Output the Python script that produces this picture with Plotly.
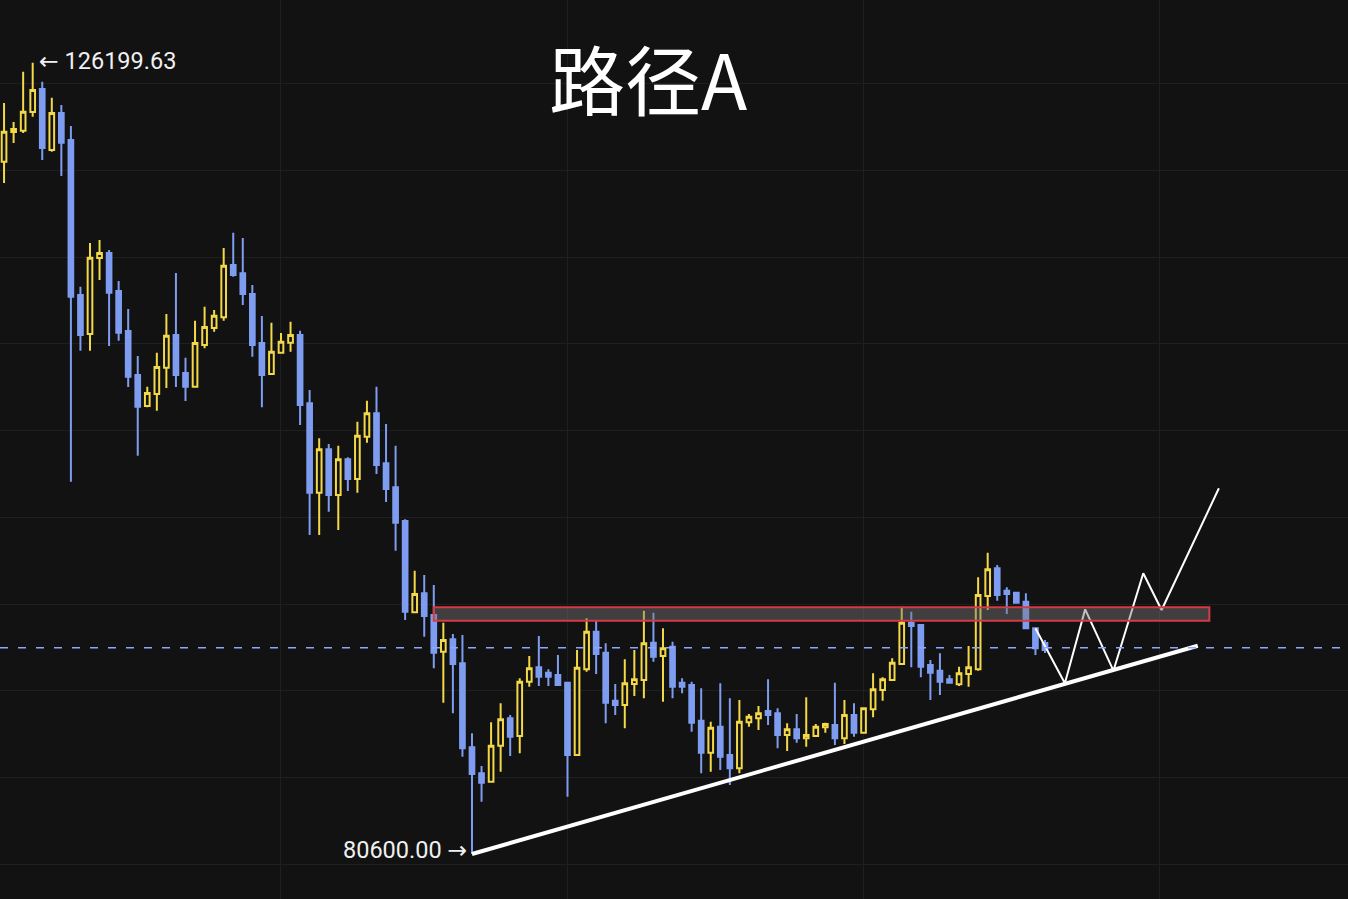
import pandas as pd
import plotly.graph_objects as go

# BTC daily candles, 2025-10-03 .. 2026-01-20
start_date = "2025-10-03"
opens = [
    120495, 122206, 122281, 123359, 124684, 121169, 123301, 121745, 112814, 110566,
    114946, 115234, 113044, 110739, 108204, 106417, 107109, 108624, 110509, 108319,
    107529, 109932, 110912, 111529, 114542, 114064, 112871, 110048, 108261, 109489,
    110065, 110509, 106573, 101421, 103922, 101289, 103346, 102211, 104648, 105997,
    103115, 101732, 99790, 94529, 95624, 94374, 92259, 92973, 91590, 86750,
    85252, 84768, 86842, 88421, 87401, 90530, 91360, 91049, 90916, 90473,
    86306, 91245, 93411, 92201, 89435, 89187, 90397, 90628, 92777, 92011,
    92547, 90473, 90340, 88283, 86439, 87937, 86306, 85540, 88190, 88421,
    88842, 88709, 87459, 87787, 87268, 87401, 87902, 88035, 87268, 88611,
    87591, 88940, 90052, 90628, 91550, 93930, 93797, 91492, 91164, 90669,
    90380, 90974, 91245, 95468, 97065, 95774, 95659, 95140, 93607, 92760,
]
highs = [
    123878, 122783, 125681, 126199.63, 125105, 124183, 123762, 122552, 113292, 115810,
    115983, 115407, 113620, 112007, 109298, 107529, 109489, 111719, 114081, 109201,
    111333, 112140, 111949, 115522, 116404, 116098, 113390, 111603, 111217, 110624,
    111275, 110756, 107339, 104556, 104227, 104130, 103461, 105513, 106723, 107529,
    105380, 104130, 99888, 96926, 96679, 96102, 93930, 93279, 93221, 87556,
    85672, 88190, 89285, 88611, 90726, 92011, 93163, 91245, 92069, 90473,
    92357, 94183, 94045, 92743, 90397, 91821, 92357, 94622, 94506, 93607,
    92835, 90726, 90530, 90150, 88225, 90438, 89573, 89475, 88669, 89130,
    90669, 88997, 88133, 88669, 89631, 88092, 88167, 90473, 89475, 89285,
    89050, 91014, 90784, 91878, 94852, 94564, 93797, 91780, 92167, 90916,
    91395, 92587, 96546, 97964, 97255, 95970, 95720, 95624, 93650, 92933,
]
lows = [
    119268, 121573, 122149, 123088, 120593, 121071, 119671, 102055, 109604, 109604,
    113678, 109875, 110180, 107512, 103553, 106350, 106147, 107454, 107512, 106705,
    107500, 109742, 110699, 111333, 113868, 112237, 109258, 106342, 108200, 109454,
    109546, 105322, 98984, 98984, 100327, 99272, 101519, 101421, 104303, 102499,
    100885, 98079, 94085, 94500, 93123, 91302, 89320, 88709, 86208, 80600,
    83615, 84700, 85344, 86248, 86404, 90242, 90282, 90282, 90300, 83904,
    86250, 91106, 90974, 88133, 88611, 87845, 89706, 89573, 91683, 89378,
    89573, 89862, 87649, 85252, 85344, 85442, 84577, 85252, 87937, 87747,
    88035, 86692, 86537, 87015, 86784, 87350, 87591, 86882, 86940, 87361,
    87550, 88478, 89435, 90600, 91500, 91360, 90784, 89475, 89764, 90450,
    90282, 90242, 91164, 94662, 95198, 94431, 95050, 93580, 92069, 92184,
]
closes = [
    122224, 122379, 123376, 124627, 121284, 123301, 121590, 112716, 110509, 114963,
    115234, 112946, 110641, 108106, 106377, 107166, 108665, 110468, 108204, 107529,
    110048, 110970, 111621, 114502, 113966, 112871, 109932, 108204, 109546, 110122,
    110509, 106475, 101421, 103922, 101289, 103346, 102211, 104706, 105997, 103017,
    101634, 99692, 94564, 95584, 94316, 92201, 92933, 91550, 86692, 85211,
    84710, 86842, 88363, 87361, 90530, 91302, 90818, 90818, 90340, 86306,
    91337, 93411, 92126, 89320, 89187, 90438, 90669, 92743, 91971, 92455,
    90242, 90242, 88167, 86439, 87880, 86208, 85540, 88225, 88513, 88709,
    88611, 87459, 87787, 87268, 87459, 87937, 88092, 87268, 88611, 87591,
    88997, 90092, 90669, 91625, 93930, 93740, 91395, 91049, 90530, 90473,
    91014, 91360, 95526, 97007, 95526, 95584, 95083, 93607, 92455, 92357,
]
dates = pd.date_range(start_date, periods=len(opens), freq="D")

high_date, high_price = "2025-10-06", 126199.63
low_date, low_price = "2025-11-21", 80600.00

# drawn scenario (path A)
trend_dates = ["2025-11-21", "2026-02-05"]
trend_prices = [80600, 92604]
path_dates = ["2026-01-19", "2026-01-22 02:00", "2026-01-24 05:00", "2026-01-27 04:00",
              "2026-01-30 07:00", "2026-02-01 05:00", "2026-02-07 05:00"]
path_prices = [93607, 90438, 94702, 91164, 96776, 94662, 101675]
zone_dates = ["2025-11-17", "2026-02-06 05:00"]
zone_prices = [94045, 94817]
dash_price = 92490

BG = "#121212"
GRID = "#1f1f1f"
UP = "#f3d847"
DOWN = "#7e9cf0"

fig = go.Figure()
fig.add_trace(go.Candlestick(
    x=dates, open=opens, high=highs, low=lows, close=closes,
    increasing=dict(line=dict(color=UP, width=2), fillcolor=BG),
    decreasing=dict(line=dict(color=DOWN, width=2), fillcolor=DOWN),
    showlegend=False, hoverinfo="skip",
))
fig.add_trace(go.Scatter(
    x=path_dates, y=path_prices, mode="lines",
    line=dict(color="#ffffff", width=2), showlegend=False, hoverinfo="skip",
))
fig.add_trace(go.Scatter(
    x=trend_dates, y=trend_prices, mode="lines",
    line=dict(color="#ffffff", width=4), showlegend=False, hoverinfo="skip",
))

# resistance zone + dashed level
fig.add_shape(type="rect", x0=zone_dates[0], x1=zone_dates[1],
              y0=zone_prices[0], y1=zone_prices[1], layer="above",
              fillcolor="rgba(120,120,120,0.45)",
              line=dict(color="#d63a45", width=2))
fig.add_shape(type="line", xref="paper", x0=0, x1=1, y0=dash_price, y1=dash_price,
              layer="above", line=dict(color="#8ea6ff", width=1.5, dash="8px,10px"))

label_font = dict(family="Roboto, DejaVu Sans", size=23.5, color="#f0f0f0")
fig.add_annotation(x=high_date, y=high_price, text="← " + f"{high_price:.2f}",
                   showarrow=False, xanchor="left", yanchor="middle",
                   xshift=4, yshift=2, font=label_font)
fig.add_annotation(x=low_date, y=low_price, text=f"{low_price:.2f} →",
                   showarrow=False, xanchor="right", yanchor="middle",
                   xshift=-3, yshift=4, font=label_font)
fig.add_annotation(xref="paper", yref="paper", x=0.4807, y=0.9143, text="路径A",
                   showarrow=False, xanchor="center", yanchor="middle",
                   font=dict(family="Noto Sans CJK SC", size=76, color="#ffffff"))

fig.update_layout(
    width=1348, height=899,
    margin=dict(l=0, r=0, t=0, b=0),
    paper_bgcolor=BG, plot_bgcolor=BG,
    showlegend=False,
    xaxis=dict(
        type="date", range=["2025-10-02 13:50", "2026-02-20 17:30"],
        rangeslider=dict(visible=False), showticklabels=False,
        tick0="2025-11-01", dtick="M1", showgrid=True, gridcolor=GRID,
        zeroline=False, showline=False, ticks="",
    ),
    yaxis=dict(
        range=[78008, 129813], showticklabels=False,
        tick0=0, dtick=5000, showgrid=True, gridcolor=GRID,
        zeroline=False, showline=False, ticks="",
    ),
)

fig.write_html("out.html", config={"displayModeBar": False},
               post_script="document.body.style.margin='0';document.body.style.background='#121212';")
